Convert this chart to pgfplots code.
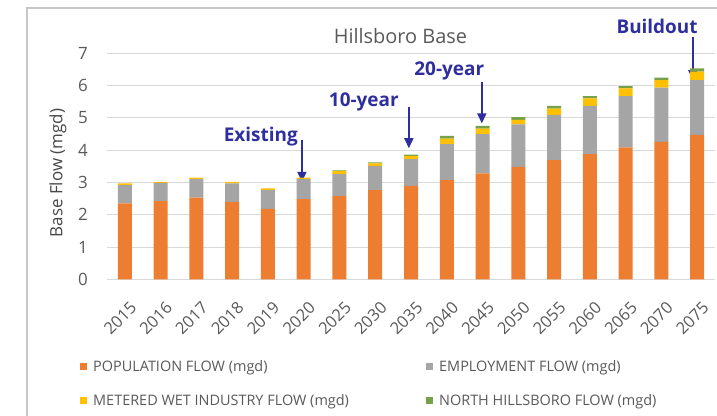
\documentclass[border=0pt]{standalone}
\usepackage{fontspec}
\setmainfont{Open Sans}
\usepackage{pgfplots}
\pgfplotsset{compat=1.18}
\usetikzlibrary{arrows.meta}
\definecolor{popcol}{HTML}{ED7D31}
\definecolor{empcol}{HTML}{A5A5A5}
\definecolor{wetcol}{HTML}{FFC000}
\definecolor{nhcol}{HTML}{76A148}
\definecolor{annot}{HTML}{2E2E9E}
\definecolor{txtgray}{HTML}{595959}
\definecolor{gridgray}{HTML}{D9D9D9}
\begin{document}
\begin{tikzpicture}
\useasboundingbox (0bp,0bp) rectangle (717bp,416bp);
% outer chart frame (left and top visible)
\draw[color=gridgray!80!gray, line width=1.2bp] (27bp,0bp) -- (27bp,408bp) -- (717bp,408bp);
\node[text=txtgray, font=\fontsize{20}{24}\selectfont] at (400.5bp,380bp) {Hillsboro Base};
\node[text=txtgray!80!black, font=\fontsize{17}{20}\selectfont, rotate=90] at (58bp,243bp) {Base Flow (mgd)};
\begin{axis}[
  at={(107bp,136.7bp)}, anchor=south west,
  scale only axis, width=608bp, height=226bp,
  ybar stacked, bar width=14bp,
  xmin=-0.5, xmax=16.5, ymin=0, ymax=7,
  xtick={0,...,16},
  xticklabels={2015,2016,2017,2018,2019,2020,2025,2030,2035,2040,2045,2050,2055,2060,2065,2070,2075},
  ytick={0,...,7},
  ymajorgrids, grid style={gridgray, line width=0.9bp},
  axis line style={draw=none},
  major tick length=0pt,
  tick label style={text=txtgray, /pgf/number format/assume math mode=true},
  yticklabel style={font=\fontsize{17}{20}\selectfont, inner sep=0pt, anchor=east, xshift=-19bp},
  xticklabel style={font=\fontsize{16.5}{20}\selectfont, inner sep=0pt, rotate=45, anchor=north east, xshift=-12bp, yshift=-18bp},
  clip=false,
  legend columns=2,
  legend cell align=left,
  legend image code/.code={\fill[#1] (0bp,-3.5bp) rectangle (7bp,3.5bp);},
  legend style={at={(-0.0444,-0.35)}, anchor=north west, draw=none, fill=none,
    inner sep=0pt, font=\fontsize{14.5}{16}\selectfont, text=txtgray,
    /tikz/every odd column/.append style={column sep=4bp},
    /tikz/row sep=17bp},
]
\addplot[fill=popcol, draw=none] coordinates {
 (0,2.35) (1,2.42) (2,2.53) (3,2.40) (4,2.18) (5,2.48) (6,2.58) (7,2.76) (8,2.89)
 (9,3.07) (10,3.28) (11,3.48) (12,3.69) (13,3.88) (14,4.09) (15,4.26) (16,4.47)};
\addlegendentry{\makebox[331bp][l]{POPULATION FLOW (mgd)}}
\addplot[fill=empcol, draw=none] coordinates {
 (0,0.57) (1,0.57) (2,0.57) (3,0.57) (4,0.58) (5,0.62) (6,0.68) (7,0.75) (8,0.83)
 (9,1.12) (10,1.22) (11,1.32) (12,1.40) (13,1.49) (14,1.58) (15,1.68) (16,1.70)};
\addlegendentry{EMPLOYMENT FLOW (mgd)}
\addplot[fill=wetcol, draw=none] coordinates {
 (0,0.05) (1,0.03) (2,0.05) (3,0.05) (4,0.06) (5,0.05) (6,0.10) (7,0.08) (8,0.10)
 (9,0.17) (10,0.17) (11,0.14) (12,0.20) (13,0.23) (14,0.24) (15,0.23) (16,0.26)};
\addlegendentry{\makebox[331bp][l]{METERED WET INDUSTRY FLOW (mgd)}}
\addplot[fill=nhcol, draw=none] coordinates {
 (0,0.00) (1,0.00) (2,0.00) (3,0.00) (4,0.00) (5,0.00) (6,0.01) (7,0.03) (8,0.04)
 (9,0.08) (10,0.08) (11,0.08) (12,0.08) (13,0.07) (14,0.07) (15,0.08) (16,0.10)};
\addlegendentry{NORTH HILLSBORO FLOW (mgd)}
% milestone callouts
\draw[annot, line width=1.8bp, -{Triangle[width=9bp,length=10bp]}] (axis cs:4.95,4.31) -- (axis cs:4.95,3.02);
\draw[annot, line width=1.8bp, -{Triangle[width=9bp,length=10bp]}] (axis cs:7.94,5.34) -- (axis cs:7.94,4.06);
\draw[annot, line width=1.8bp, -{Triangle[width=9bp,length=10bp]}] (axis cs:9.98,6.12) -- (axis cs:9.98,4.83);
\draw[annot, line width=1.8bp, -{Triangle[width=9bp,length=10bp]}] (axis cs:15.88,7.49) -- (axis cs:15.88,6.17);
\node[text=annot, font=\fontsize{19}{22}\selectfont\bfseries, anchor=base] at (axis cs:3.80,4.26) {Existing};
\node[text=annot, font=\fontsize{19}{22}\selectfont\bfseries, anchor=base] at (axis cs:6.68,5.34) {10-year};
\node[text=annot, font=\fontsize{19}{22}\selectfont\bfseries, anchor=base] at (axis cs:9.07,6.32) {20-year};
\node[text=annot, font=\fontsize{19}{22}\selectfont\bfseries, anchor=base] at (axis cs:14.88,7.61) {Buildout};
\end{axis}
\end{tikzpicture}
\end{document}
